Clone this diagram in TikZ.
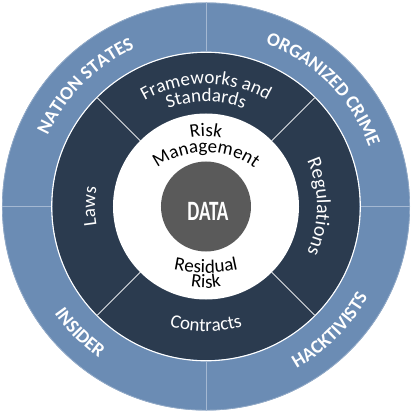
\documentclass[tikz,border=0pt]{standalone}
\usepackage{fontspec}
\setmainfont{Carlito}
\usetikzlibrary{decorations.text}
\definecolor{ringblue}{HTML}{6B8CB4}
\definecolor{ringdark}{HTML}{2B3B4F}
\definecolor{coregrey}{HTML}{5A5A5A}
\definecolor{bluediv}{HTML}{A4B8D2}
\newcommand\ringfont{\fontsize{19}{19}\selectfont\bfseries}
\newcommand\bandfont{\fontsize{19}{19}\selectfont}
\newcommand\bigbandfont{\fontsize{20}{20}\selectfont}
\tikzset{
  outertext/.style={decorate, decoration={text along path, text align=center, text={|\ringfont\color{white}|#1}}},
  bandtext/.style={decorate, decoration={text along path, text align=center, text={|\bandfont\color{white}|#1}}},
  bigbandtext/.style={decorate, decoration={text along path, text align=center, text={|\bigbandfont\color{white}|#1}}},
  coretext/.style={decorate, decoration={text along path, text align=center, text={|\bandfont\color{black}|#1}}},
  bluedivider/.style={draw=bluediv, line width=0.8pt},
  darkdivider/.style={draw=white!85!ringdark, line width=0.9pt},
}
\begin{document}
\begin{tikzpicture}[x=1pt,y=1pt]
\useasboundingbox (-206pt,-208.5pt) rectangle (208pt,206.5pt);
\fill[white] (-206pt,-208.5pt) rectangle (208pt,206.5pt);
% outer ring
\fill[ringblue] (0,0) circle[radius=204pt];
\draw[ringblue!70!white, line width=0.6pt] (0,0) circle[radius=203.6pt];
\foreach \a in {0,90,180,270} \draw[bluedivider] (\a:155pt) -- (\a:204pt);
\draw[white, line width=1.3pt] (0,0) circle[radius=154.2pt];
% dark band
\fill[ringdark] (0,0) circle[radius=153.5pt];
\foreach \a in {45,135,225,315} \draw[darkdivider] (\a:93pt) -- (\a:153.5pt);
% inner white disc and core
\fill[white] (0,0) circle[radius=93pt];
\fill[coregrey] (0,0) circle[radius=45pt];
\node[text=white, font=\fontsize{28}{28}\selectfont\bfseries, anchor=base, inner sep=0pt] (data) at (2pt,-13.5pt) {\scalebox{0.68}[1]{DATA}};
% outer ring texts
\path[outertext={NATION STATES}] (225:173.4pt) arc[start angle=225, end angle=45, radius=173.4pt];
\path[outertext={ORGANIZED CRIME}] (135:173.4pt) arc[start angle=135, end angle=-45, radius=173.4pt];
\path[outertext={INSIDER}] (135:185.6pt) arc[start angle=135, end angle=315, radius=185.6pt];
\path[outertext={HACKTIVISTS}] (225:185.6pt) arc[start angle=225, end angle=405, radius=185.6pt];
% band texts
\path[bandtext={Frameworks and}] (180:122.5pt) arc[start angle=180, end angle=0, radius=122.5pt];
\path[bandtext={Standards}] (180:105pt) arc[start angle=180, end angle=0, radius=105pt];
\path[bigbandtext={Regulations}] (90:111pt) arc[start angle=90, end angle=-90, radius=111pt];
\path[bandtext={Laws}] (270:111pt) arc[start angle=270, end angle=90, radius=111pt];
\path[bandtext={Contracts}] (180:125pt) arc[start angle=180, end angle=360, radius=125pt];
% inner texts
\path[coretext={Risk}] (180:70pt) arc[start angle=180, end angle=0, radius=70pt];
\path[coretext={Management}] (180:69pt and 54pt) arc[start angle=180, end angle=0, x radius=69pt, y radius=54pt];
\path[coretext={Residual}] (180:100pt and 66.5pt) arc[start angle=180, end angle=360, x radius=100pt, y radius=66.5pt];
\path[coretext={Risk}] (180:81.5pt) arc[start angle=180, end angle=360, radius=81.5pt];
\end{tikzpicture}
\end{document}
